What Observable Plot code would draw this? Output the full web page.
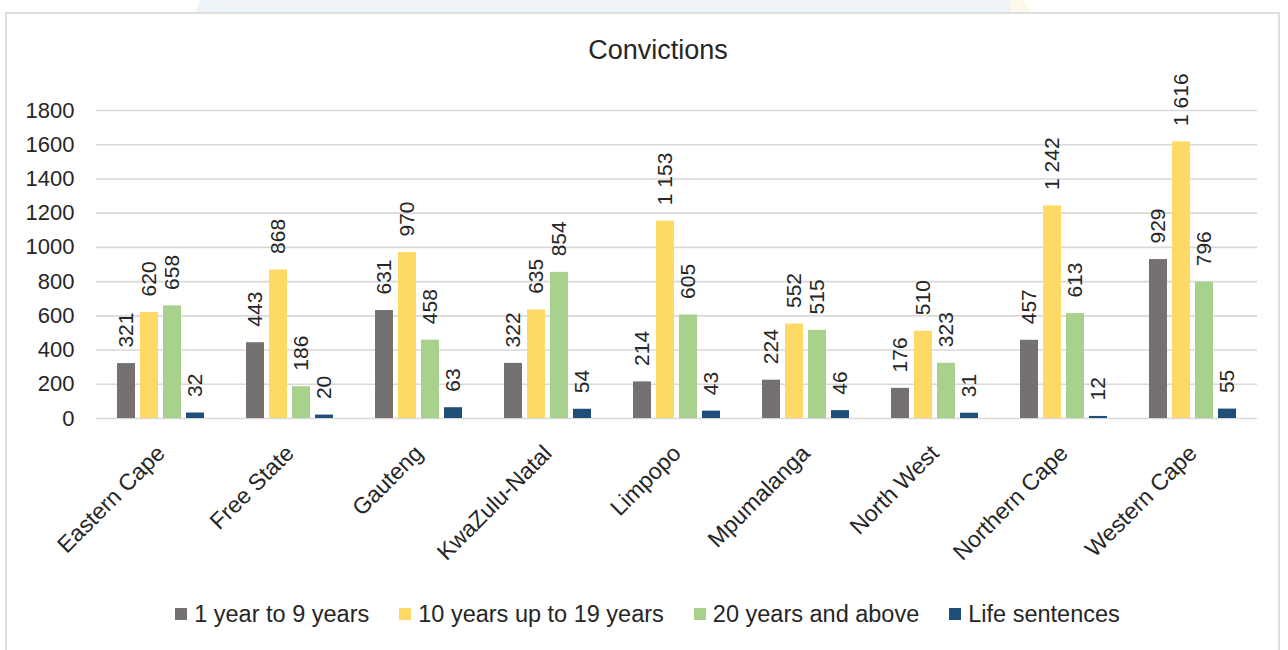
<!DOCTYPE html>
<html>
<head>
<meta charset="utf-8">
<script src="https://cdn.jsdelivr.net/npm/d3@7"></script>
<script src="https://cdn.jsdelivr.net/npm/@observablehq/plot@0.6"></script>
<style>
  html, body { margin: 0; padding: 0; background: #fff; }
  body { width: 1288px; height: 650px; position: relative; overflow: hidden;
         font-family: "Liberation Sans", Arial, sans-serif; color: #262626; }
  #band { position: absolute; left: 195px; top: 0; width: 815px; height: 13px;
          background: #eef3f8; clip-path: polygon(5px 0, 100% 0, 100% 100%, 0 100%); }
  #band2 { position: absolute; left: 1010px; top: 0; width: 22px; height: 13px;
           background: #fdf8ea; clip-path: polygon(0 0, 60% 0, 100% 100%, 0 100%); }
  #frame { position: absolute; left: 5px; top: 12px; width: 1275px; height: 700px;
           border: 2px solid #dedede; box-sizing: border-box; }
  #title { position: absolute; left: 0; width: 1316px; top: 35px; text-align: center;
           font-size: 27px; line-height: 30px; }
  #chart { position: absolute; left: 0; top: 80px; }
  #chart svg { overflow: visible; }
  #legend { position: absolute; left: 0; width: 1295px; top: 600px; display: flex;
            justify-content: center; gap: 30px; font-size: 23.5px; line-height: 28px; }
  .item { display: flex; align-items: center; }
  .swatch { width: 12px; height: 12px; margin-right: 7px; }
</style>
</head>
<body>
<div id="band"></div>
<div id="band2"></div>
<div id="frame"></div>
<div id="title">Convictions</div>
<div id="chart"></div>
<div id="legend"></div>
<script>
// Convictions per province, by sentence length
const provinces = ["Eastern Cape", "Free State", "Gauteng", "KwaZulu-Natal", "Limpopo",
                   "Mpumalanga", "North West", "Northern Cape", "Western Cape"];
const series = ["1 year to 9 years", "10 years up to 19 years", "20 years and above", "Life sentences"];
const colors = ["#767171", "#FFD966", "#A9D18E", "#1F4E79"];

const oneToNine      = [321, 443, 631, 322, 214, 224, 176, 457, 929];
const tenToNineteen  = [620, 868, 970, 635, 1153, 552, 510, 1242, 1616];
const twentyAndAbove = [658, 186, 458, 854, 605, 515, 323, 613, 796];
const lifeSentences  = [32, 20, 63, 54, 43, 46, 31, 12, 55];

const yTicks = [0, 200, 400, 600, 800, 1000, 1200, 1400, 1600, 1800];

const seriesValues = [oneToNine, tenToNineteen, twentyAndAbove, lifeSentences];
const rows = provinces.flatMap((p, i) =>
  series.map((s, j) => ({province: p, series: s, value: seriesValues[j][i]})));

// thousands separated by a space, e.g. "1 616"
const fmt = v => d3.format(",")(v).replace(/,/g, " ");

const chart = Plot.plot({
  width: 1288,
  height: 500,
  marginTop: 30,
  marginBottom: 162,
  marginLeft: 95,
  marginRight: 30,
  style: {fontFamily: "'Liberation Sans', Arial, sans-serif", color: "#262626", background: "transparent"},
  fx: {domain: provinces, paddingInner: 0, paddingOuter: 0, label: null},
  x: {domain: series, paddingInner: 0.2, paddingOuter: 0.872, axis: null},
  y: {domain: [0, 1800], label: null},
  color: {domain: series, range: colors},
  marks: [
    Plot.ruleY(yTicks, {stroke: "#d9d9d9", strokeWidth: 1.6}),
    Plot.barY(rows, {fx: "province", x: "series", y: "value", fill: "series"}),
    Plot.text(rows, {
      fx: "province", x: "series", y: "value", text: d => fmt(d.value),
      rotate: -90, textAnchor: "start", dy: -16, fontSize: 21, fill: "#262626"
    }),
    Plot.axisY(yTicks, {tickSize: 0, tickPadding: 22, fontSize: 22, tickFormat: d => String(d), label: null}),
    Plot.axisFx({anchor: "bottom", tickRotate: -45, tickSize: 0, tickPadding: 31, fontSize: 23, label: null})
  ]
});
document.getElementById("chart").appendChild(chart);

// Legend below the chart
const legend = d3.select("#legend");
series.forEach((s, i) => {
  const item = legend.append("div").attr("class", "item");
  item.append("div").attr("class", "swatch").style("background", colors[i]);
  item.append("span").text(s);
});
</script>
</body>
</html>
